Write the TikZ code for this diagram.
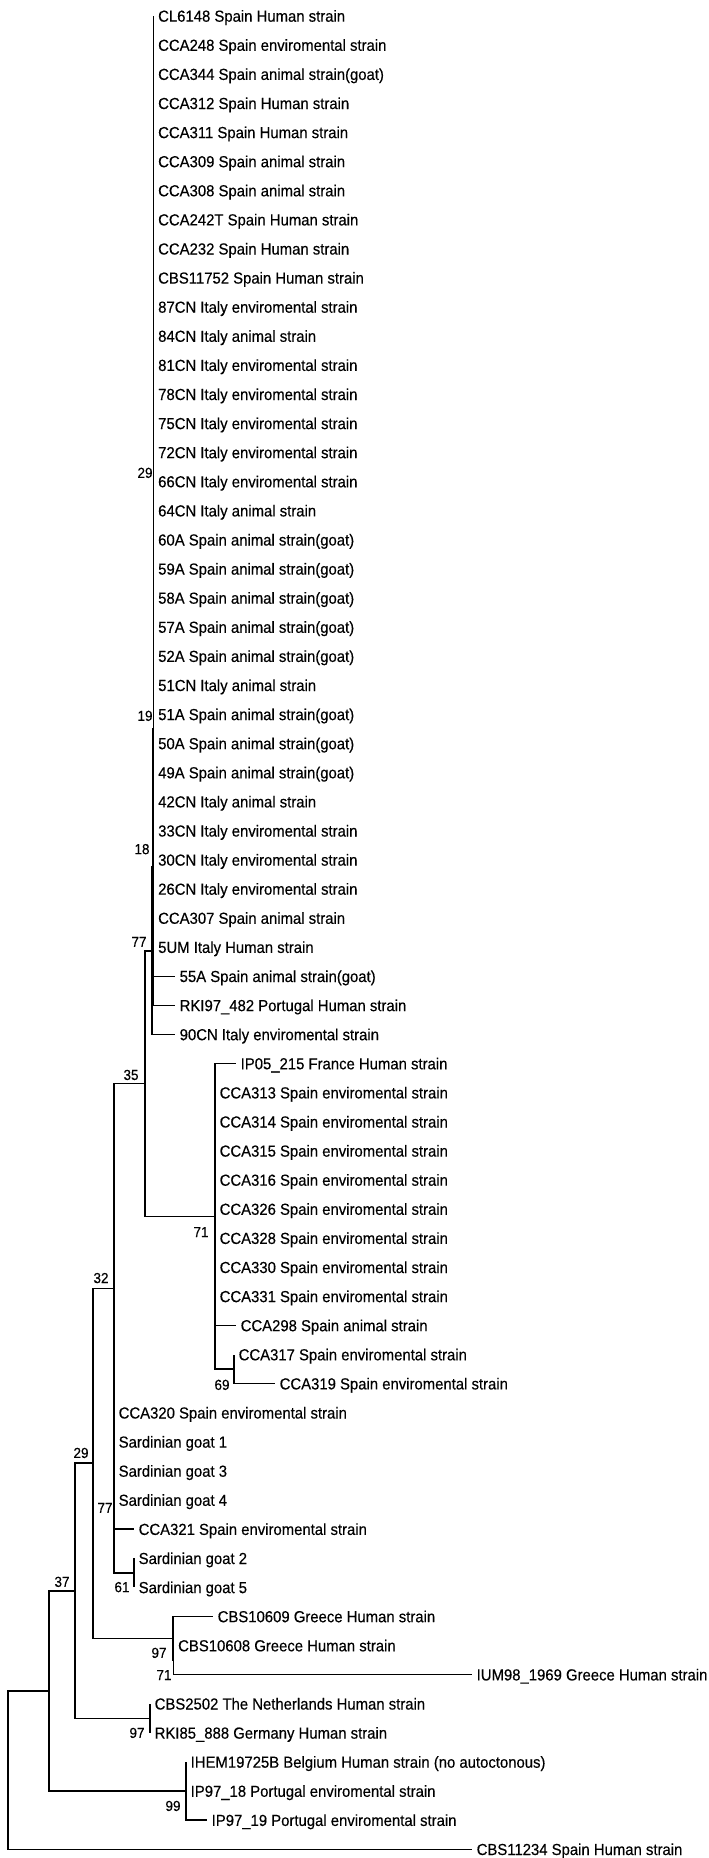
\documentclass[tikz,border=0pt]{standalone}
\usepackage{fontspec}
\setmainfont{Liberation Sans}[FakeStretch=0.93,FakeBold=0.35]
\usetikzlibrary{calc}

\tikzset{
  branch/.style={line width=1.5pt},
  leaf/.style={anchor=west, inner xsep=4.5pt, inner ysep=0pt, text height=11.4pt, text depth=0pt, font=\fontsize{16}{16}\selectfont},
  boot/.style={inner sep=0pt, font=\fontsize{14.5}{14.5}\selectfont}
}

\begin{document}
\begin{tikzpicture}[x=1pt, y=-29.1pt]
  \useasboundingbox (0,0.4502) rectangle (709,64.299);

  % Internal nodes of the tree
  \coordinate (n29) at (153.5,17);
  \coordinate (n19) at (153.5,25.5);
  \coordinate (n18) at (153,30.25);
  \coordinate (n77) at (152,33.125);
  \coordinate (n35) at (145,37.6875);
  \coordinate (n71) at (215,42.25);
  \coordinate (n69) at (234,47.5);
  \coordinate (n61) at (134,54.5);
  \coordinate (n77b) at (114,51.75);
  \coordinate (n32) at (114,44.72);
  \coordinate (n71c) at (173.5,57.5);
  \coordinate (n97a) at (173,56.75);
  \coordinate (n29b) at (93,50.73);
  \coordinate (n97b) at (150,59.5);
  \coordinate (n37) at (75,55.12);
  \coordinate (n99) at (186,62);
  \coordinate (nA) at (49,58.56);
  \coordinate (root) at (8,61.28);

  % Strains
  \node[leaf] (l1) at (153.5,1) {CL6148 Spain Human strain};
  \node[leaf] (l2) at (153.5,2) {CCA248 Spain enviromental strain};
  \node[leaf] (l3) at (153.5,3) {CCA344 Spain animal strain(goat)};
  \node[leaf] (l4) at (153.5,4) {CCA312 Spain Human strain};
  \node[leaf] (l5) at (153.5,5) {CCA311 Spain Human strain};
  \node[leaf] (l6) at (153.5,6) {CCA309 Spain animal strain};
  \node[leaf] (l7) at (153.5,7) {CCA308 Spain animal strain};
  \node[leaf] (l8) at (153.5,8) {CCA242T Spain Human strain};
  \node[leaf] (l9) at (153.5,9) {CCA232 Spain Human strain};
  \node[leaf] (l10) at (153.5,10) {CBS11752 Spain Human strain};
  \node[leaf] (l11) at (153.5,11) {87CN Italy enviromental strain};
  \node[leaf] (l12) at (153.5,12) {84CN Italy animal strain};
  \node[leaf] (l13) at (153.5,13) {81CN Italy enviromental strain};
  \node[leaf] (l14) at (153.5,14) {78CN Italy enviromental strain};
  \node[leaf] (l15) at (153.5,15) {75CN Italy enviromental strain};
  \node[leaf] (l16) at (153.5,16) {72CN Italy enviromental strain};
  \node[leaf] (l17) at (153.5,17) {66CN Italy enviromental strain};
  \node[leaf] (l18) at (153.5,18) {64CN Italy animal strain};
  \node[leaf] (l19) at (153.5,19) {60A Spain animal strain(goat)};
  \node[leaf] (l20) at (153.5,20) {59A Spain animal strain(goat)};
  \node[leaf] (l21) at (153.5,21) {58A Spain animal strain(goat)};
  \node[leaf] (l22) at (153.5,22) {57A Spain animal strain(goat)};
  \node[leaf] (l23) at (153.5,23) {52A Spain animal strain(goat)};
  \node[leaf] (l24) at (153.5,24) {51CN Italy animal strain};
  \node[leaf] (l25) at (153.5,25) {51A Spain animal strain(goat)};
  \node[leaf] (l26) at (153.5,26) {50A Spain animal strain(goat)};
  \node[leaf] (l27) at (153.5,27) {49A Spain animal strain(goat)};
  \node[leaf] (l28) at (153.5,28) {42CN Italy animal strain};
  \node[leaf] (l29) at (153.5,29) {33CN Italy enviromental strain};
  \node[leaf] (l30) at (153.5,30) {30CN Italy enviromental strain};
  \node[leaf] (l31) at (153.5,31) {26CN Italy enviromental strain};
  \node[leaf] (l32) at (153.5,32) {CCA307 Spain animal strain};
  \node[leaf] (l33) at (153.5,33) {5UM Italy Human strain};
  \node[leaf] (l34) at (175,34) {55A Spain animal strain(goat)};
  \node[leaf] (l35) at (175,35) {RKI97\_482 Portugal Human strain};
  \node[leaf] (l36) at (175,36) {90CN Italy enviromental strain};
  \node[leaf] (l37) at (236,37) {IP05\_215 France Human strain};
  \node[leaf] (l38) at (215,38) {CCA313 Spain enviromental strain};
  \node[leaf] (l39) at (215,39) {CCA314 Spain enviromental strain};
  \node[leaf] (l40) at (215,40) {CCA315 Spain enviromental strain};
  \node[leaf] (l41) at (215,41) {CCA316 Spain enviromental strain};
  \node[leaf] (l42) at (215,42) {CCA326 Spain enviromental strain};
  \node[leaf] (l43) at (215,43) {CCA328 Spain enviromental strain};
  \node[leaf] (l44) at (215,44) {CCA330 Spain enviromental strain};
  \node[leaf] (l45) at (215,45) {CCA331 Spain enviromental strain};
  \node[leaf] (l46) at (236,46) {CCA298 Spain animal strain};
  \node[leaf] (l47) at (234,47) {CCA317 Spain enviromental strain};
  \node[leaf] (l48) at (275,48) {CCA319 Spain enviromental strain};
  \node[leaf] (l49) at (114,49) {CCA320 Spain enviromental strain};
  \node[leaf] (l50) at (114,50) {Sardinian goat 1};
  \node[leaf] (l51) at (114,51) {Sardinian goat 3};
  \node[leaf] (l52) at (114,52) {Sardinian goat 4};
  \node[leaf] (l53) at (134,53) {CCA321 Spain enviromental strain};
  \node[leaf] (l54) at (134,54) {Sardinian goat 2};
  \node[leaf] (l55) at (134,55) {Sardinian goat 5};
  \node[leaf] (l56) at (213,56) {CBS10609 Greece Human strain};
  \node[leaf] (l57) at (173.5,57) {CBS10608 Greece Human strain};
  \node[leaf] (l58) at (472,58) {IUM98\_1969 Greece Human strain};
  \node[leaf] (l59) at (150,59) {CBS2502 The Netherlands Human strain};
  \node[leaf] (l60) at (150,60) {RKI85\_888 Germany Human strain};
  \node[leaf] (l61) at (186,61) {IHEM19725B Belgium Human strain (no autoctonous)};
  \node[leaf] (l62) at (186,62) {IP97\_18 Portugal enviromental strain};
  \node[leaf] (l63) at (207,63) {IP97\_19 Portugal enviromental strain};
  \node[leaf] (l64) at (472,64) {CBS11234 Spain Human strain};

  % Branches
  \foreach \i in {1,...,33}
    \draw[branch] (n29) |- (l\i.west);
  \draw[branch] (n19) |- (n29) (n19) |- (l34.west);
  \draw[branch] (n18) |- (n19) (n18) |- (l35.west);
  \draw[branch] (n77) |- (n18) (n77) |- (l36.west);
  \draw[branch] (n35) |- (n77) (n35) |- (n71);
  \foreach \i in {37,...,46}
    \draw[branch] (n71) |- (l\i.west);
  \draw[branch] (n71) |- (n69);
  \draw[branch] (n69) |- (l47.west) (n69) |- (l48.west);
  \draw[branch] (n32) |- (n35) (n32) |- (n77b);
  \foreach \i in {49,...,53}
    \draw[branch] (n77b) |- (l\i.west);
  \draw[branch] (n77b) |- (n61);
  \draw[branch] (n61) |- (l54.west) (n61) |- (l55.west);
  \draw[branch] (n29b) |- (n32) (n29b) |- (n97a);
  \draw[branch] (n97a) |- (l56.west) (n97a) |- (n71c);
  \draw[branch] (n71c) |- (l57.west) (n71c) |- (l58.west);
  \draw[branch] (n37) |- (n29b) (n37) |- (n97b);
  \draw[branch] (n97b) |- (l59.west) (n97b) |- (l60.west);
  \draw[branch] (nA) |- (n37) (nA) |- (n99);
  \draw[branch] (n99) |- (l61.west) (n99) |- (l62.west) (n99) |- (l63.west);
  \draw[branch] (root) |- (nA) (root) |- (l64.west);

  % Bootstrap values
  \node[boot] (b29a) at (145,16.70) {29};
  \node[boot] (b19) at (145,25.05) {19};
  \node[boot] (b18) at (142,29.63) {18};
  \node[boot] (b77a) at (139,32.82) {77};
  \node[boot] (b35) at (131,37.39) {35};
  \node[boot] (b71a) at (201,42.79) {71};
  \node[boot] (b69) at (222,48.04) {69};
  \node[boot] (b32) at (101,44.37) {32};
  \node[boot] (b29b) at (81,50.38) {29};
  \node[boot] (b77b) at (105,52.27) {77};
  \node[boot] (b61) at (122,54.99) {61};
  \node[boot] (b37) at (62,54.81) {37};
  \node[boot] (b97a) at (159,57.25) {97};
  \node[boot] (b71b) at (164,58.01) {71};
  \node[boot] (b97b) at (137,60.0) {97};
  \node[boot] (b99) at (173,62.51) {99};
\end{tikzpicture}
\end{document}
